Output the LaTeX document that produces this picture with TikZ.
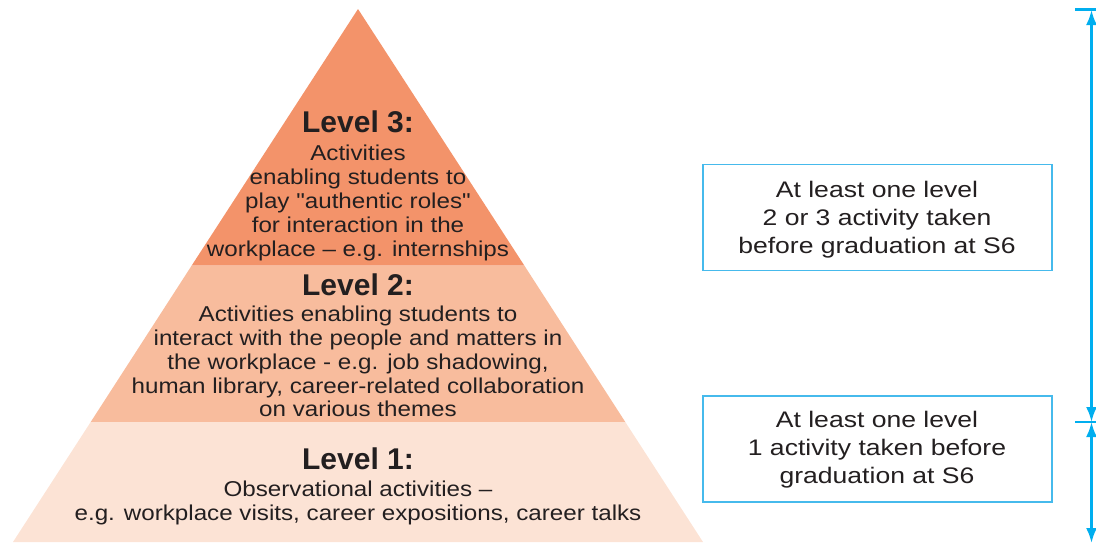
\documentclass[tikz,border=0pt]{standalone}
\usepackage{fontspec}
\setmainfont{Liberation Sans}
\newfontfamily\bodyfont[FakeStretch=1.125]{Liberation Sans}
\newfontfamily\boxfont[FakeStretch=1.18]{Liberation Sans}
\usetikzlibrary{arrows.meta}
\definecolor{lvthree}{RGB}{243,147,106}
\definecolor{lvtwo}{RGB}{248,188,157}
\definecolor{lvone}{RGB}{252,227,213}
\definecolor{txt}{RGB}{35,31,32}
\definecolor{bluec}{RGB}{0,174,239}
\definecolor{boxc}{RGB}{70,186,236}
\tikzset{
  head/.style={anchor=base, inner sep=0pt, text=txt, font=\fontsize{30}{36}\selectfont\bfseries},
  body/.style={anchor=base, inner sep=0pt, text=txt, font=\bodyfont\fontsize{21.5}{24}\selectfont},
  boxtxt/.style={anchor=base, inner sep=0pt, text=txt, font=\boxfont\fontsize{22.5}{27}\selectfont},
  infobox/.style={draw=boxc, line width=1.3pt, inner sep=0pt},
  arr/.style={draw=bluec, line width=2.4pt, {Latex[length=15pt,width=11pt]}-{Latex[length=15pt,width=11pt]}},
  tick/.style={draw=bluec, line width=2.2pt}
}
\begin{document}
\begin{tikzpicture}[x=1pt,y=-1pt]
\useasboundingbox (0,0) rectangle (1096,542);
% pyramid corners
\coordinate (apex) at (358,9);
\coordinate (l3L) at (191.7,265.5);
\coordinate (l3R) at (524.3,265.5);
\coordinate (l2L) at (90.7,422);
\coordinate (l2R) at (625.3,422);
\coordinate (l1L) at (13,542);
\coordinate (l1R) at (703,542);
\fill[lvthree] (apex) -- (l3R) -- (l3L) -- cycle;
\fill[lvtwo] (l3L) -- (l3R) -- (l2R) -- (l2L) -- cycle;
\fill[lvone] (l2L) -- (l2R) -- (l1R) -- (l1L) -- cycle;
% Level 3 text
\node[head] (h3) at (358,132.7) {Level 3:};
\node[body] (t3a) at (358,160) {Activities};
\node[body] (t3b) at (358,184) {enabling students to};
\node[body] (t3c) at (358,208.3) {play "authentic roles"};
\node[body] (t3d) at (358,232.5) {for interaction in the};
\node[body] (t3e) at (358,256.7) {workplace – e.g. internships};
% Level 2 text
\node[head] (h2) at (358,295) {Level 2:};
\node[body] (t2a) at (358,321.7) {Activities enabling students to};
\node[body] (t2b) at (358,345.5) {interact with the people and matters in};
\node[body] (t2c) at (358,369.3) {the workplace - e.g. job shadowing,};
\node[body] (t2d) at (358,393) {human library, career-related collaboration};
\node[body] (t2e) at (358,416.7) {on various themes};
% Level 1 text
\node[head] (h1) at (358,469) {Level 1:};
\node[body] (t1a) at (358,496) {Observational activities –};
\node[body] (t1b) at (358,520) {e.g. workplace visits, career expositions, career talks};
% boxes
\node[infobox, minimum width=349pt, minimum height=106pt] (box1) at (877.5,217.2) {};
\node[boxtxt] (b1a) at (877,197.7) {At least one level};
\node[boxtxt] (b1b) at (877,225.3) {2 or 3 activity taken};
\node[boxtxt] (b1c) at (877,253.3) {before graduation at S6};
\node[infobox, minimum width=349pt, minimum height=106pt] (box2) at (877.5,449) {};
\node[boxtxt] (b2a) at (877,427.7) {At least one level};
\node[boxtxt] (b2b) at (877,455.3) {1 activity taken before};
\node[boxtxt] (b2c) at (877,483.3) {graduation at S6};
% span arrows
\coordinate (atop) at (1091.5,10);
\coordinate (amid) at (1091.5,422);
\coordinate (abot) at (1091.5,543);
\coordinate (ttL) at (1075,9.5);
\coordinate (ttR) at (1096,9.5);
\coordinate (tmL) at (1075,422);
\coordinate (tmR) at (1096,422);
\draw[tick] (ttL) -- (ttR);
\draw[tick] (tmL) -- (tmR);
\draw[arr] (atop) -- (amid);
\draw[arr] (amid) -- (abot);
\end{tikzpicture}
\end{document}
